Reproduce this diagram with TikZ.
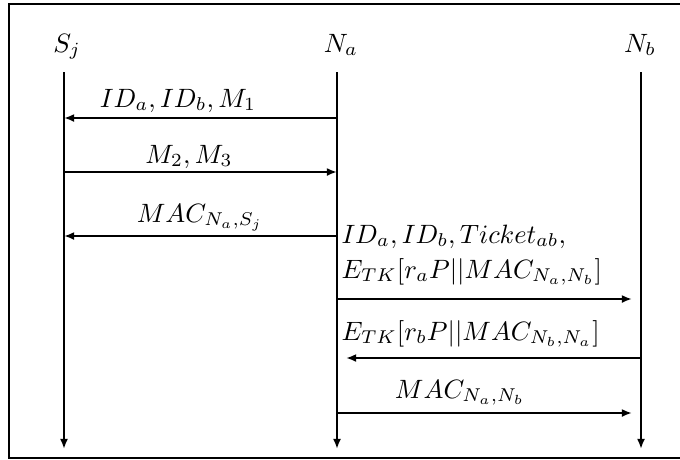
\documentclass[tikz,border=0pt]{standalone}
\usetikzlibrary{arrows.meta}
\begin{document}
\begin{tikzpicture}[x=0.377pt,y=-0.377pt,
 frame/.style={line width=0.75pt},
 msg/.style={line width=0.75pt,-{Latex[length=3.8pt,width=3pt]}},
 lbl/.style={anchor=base,inner sep=0pt},
 lblw/.style={anchor=base west,inner sep=0pt},
 hdr/.style={anchor=base,inner sep=0pt}]
\useasboundingbox (0,0) rectangle (680,459);
\draw[frame] (9,4) rectangle (700,458);
% headers
\node[hdr] (S) at (67,52) {$S_j$};
\node[hdr] (A) at (341,52) {$N_a$};
\node[hdr] (B) at (640,52) {$N_b$};
% lifelines
\coordinate (St) at (64,72);  \coordinate (Sb) at (64,449);
\coordinate (At) at (337,72); \coordinate (Ab) at (337,449);
\coordinate (Bt) at (641,72); \coordinate (Bb) at (641,449);
\draw[msg] (St) -- (Sb);
\draw[msg] (At) -- (Ab);
\draw[msg] (Bt) -- (Bb);
% messages
\coordinate (a1) at (337,118); \coordinate (s1) at (64,118);
\coordinate (s2) at (64,172);  \coordinate (a2) at (337,172);
\coordinate (a3) at (337,236); \coordinate (s3) at (64,236);
\coordinate (a4) at (337,299); \coordinate (b4) at (641,299);
\coordinate (b5) at (641,358); \coordinate (a5) at (337,358);
\coordinate (a6) at (337,413); \coordinate (b6) at (641,413);
\draw[msg] (a1) -- (s1);
\draw[msg] (s2) -- (a2);
\draw[msg] (a3) -- (s3);
\draw[msg,shorten >=3.4pt] (a4) -- (b4);
\draw[msg,shorten >=3.4pt] (b5) -- (a5);
\draw[msg,shorten >=3.4pt] (a6) -- (b6);
% labels
\node[lbl] (l1) at (178,107) {$ID_a, ID_b, M_1$};
\node[lbl] (l2) at (189,163) {$M_2, M_3$};
\node[lbl] (l3) at (200,222) {$MAC_{N_a,S_j}$};
\node[lblw] (l4) at (341,243) {$ID_a, ID_b, Ticket_{ab},$};
\node[lblw] (l5) at (341,278) {$E_{TK}[r_aP||MAC_{N_a,N_b}]$};
\node[lblw] (l6) at (341,340) {$E_{TK}[r_bP||MAC_{N_b,N_a}]$};
\node[lbl] (l7) at (460,398) {$MAC_{N_a,N_b}$};
\end{tikzpicture}
\end{document}
